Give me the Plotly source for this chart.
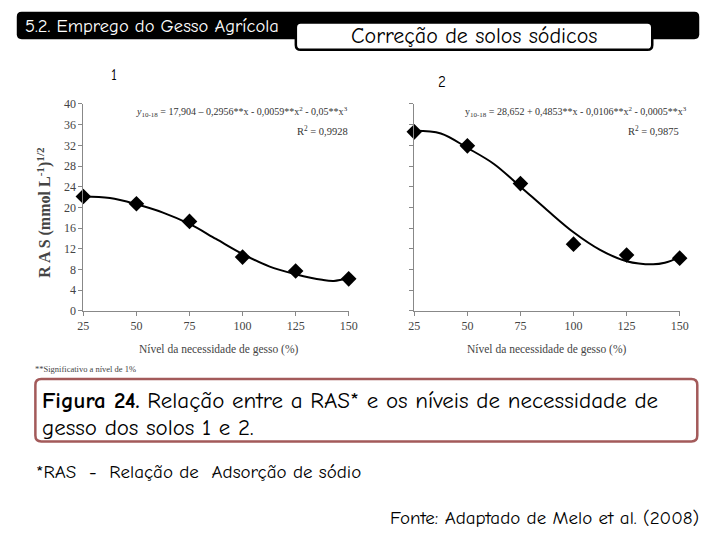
import plotly.graph_objects as go

W, H = 720, 540

# ---- data ----
levels = [25, 50, 75, 100, 125, 150]
ras_solo1 = [22.1, 20.7, 17.3, 10.4, 7.7, 6.2]
ras_solo2 = [34.6, 31.9, 24.6, 12.9, 10.8, 10.2]

curve_x = [25, 37.5, 50, 62.5, 75, 87.5, 100, 112.5, 125, 137.5, 143, 150]
curve_solo1 = [22.1, 21.8, 20.6, 19.0, 16.8, 13.9, 11.0, 8.6, 7.1, 6.0, 5.8, 6.3]
curve_solo2 = [34.8, 34.3, 31.5, 28.4, 24.0, 19.5, 15.2, 11.8, 9.6, 9.0, 9.3, 10.4]

x_ticks = [25, 50, 75, 100, 125, 150]
y_ticks = [0, 4, 8, 12, 16, 20, 24, 28, 32, 36, 40]

eq1 = "<i>y</i><sub>10-18</sub> = 17,904 \u2013 0,2956**x - 0,0059**x<sup>2</sup> - 0,05**x<sup>3</sup>"
r2_1 = "R<sup>2</sup> = 0,9928"
eq2 = "y<sub>10-18</sub> = 28,652 + 0,4853**x - 0,0106**x<sup>2</sup> - 0,0005**x<sup>3</sup>"
r2_2 = "R<sup>2</sup> = 0,9875"


def X(px):
    return px / W


def Y(py):
    return 1 - py / H


def rounded(x0, y0, x1, y1, r):
    a0, b0, a1, b1 = X(x0), Y(y1), X(x1), Y(y0)
    rx, ry = r / W, r / H
    return (f"M{a0+rx},{b0} L{a1-rx},{b0} Q{a1},{b0} {a1},{b0+ry} "
            f"L{a1},{b1-ry} Q{a1},{b1} {a1-rx},{b1} L{a0+rx},{b1} "
            f"Q{a0},{b1} {a0},{b1-ry} L{a0},{b0+ry} Q{a0},{b0} {a0+rx},{b0} Z")


SERIF = "Liberation Serif, Times New Roman, serif"
COMIC = "Comic Sans MS, Comic Neue, Lato, sans-serif"

fig = go.Figure()

for xa, ya, pts, cur in [("x", "y", ras_solo1, curve_solo1), ("x2", "y2", ras_solo2, curve_solo2)]:
    fig.add_trace(go.Scatter(x=curve_x, y=cur, xaxis=xa, yaxis=ya, mode="lines",
                             line=dict(color="black", width=2, shape="spline"),
                             showlegend=False, hoverinfo="skip", cliponaxis=False))
    fig.add_trace(go.Scatter(x=levels, y=pts, xaxis=xa, yaxis=ya, mode="markers",
                             marker=dict(symbol="diamond", size=12, color="black"),
                             showlegend=False, cliponaxis=False))

ax_common = dict(range=[25, 150], tickvals=x_ticks, ticks="outside", ticklen=4,
                 tickcolor="#888", showline=True, linecolor="#888", linewidth=1,
                 showgrid=False, zeroline=False,
                 tickfont=dict(family=SERIF, size=12, color="#444"))
ay_common = dict(range=[0, 40], tickvals=y_ticks, ticks="outside", ticklen=4,
                 tickcolor="#888", showline=True, linecolor="#888", linewidth=1,
                 showgrid=False, zeroline=False,
                 tickfont=dict(family=SERIF, size=12, color="#444"))

fig.update_layout(
    width=W, height=H, margin=dict(l=0, r=0, t=0, b=0),
    paper_bgcolor="white", plot_bgcolor="white",
    xaxis=dict(domain=[X(79), X(350)], anchor="y", **ax_common),
    yaxis=dict(domain=[Y(312), Y(99.5)], anchor="x", **ay_common),
    xaxis2=dict(domain=[X(417), X(688)], anchor="y2", **ax_common),
    yaxis2=dict(domain=[Y(312), Y(99.5)], anchor="x2", showticklabels=False,
                **{k: v for k, v in ay_common.items() if k != "tickfont"}),
)

shapes = [
    dict(type="path", path=rounded(11, 5, 708, 33, 5), xref="paper", yref="paper",
         fillcolor="black", line=dict(width=0)),
    dict(type="path", path=rounded(296, 16, 660, 44, 5), xref="paper", yref="paper",
         fillcolor="white", line=dict(color="black", width=2.5)),
    dict(type="path", path=rounded(30, 382, 706, 446, 6), xref="paper", yref="paper",
         fillcolor="rgba(0,0,0,0)", line=dict(color="#a35a5a", width=2.5)),
]
fig.update_layout(shapes=shapes)

ann = []


def txt(px, py, text, size, family, color="black", xanchor="left", yanchor="middle", angle=0):
    ann.append(dict(x=X(px), y=Y(py), xref="paper", yref="paper", text=text, showarrow=False,
                    xanchor=xanchor, yanchor=yanchor, textangle=angle, borderpad=0,
                    font=dict(size=size, family=family, color=color)))


txt(18, 19, "5.2. Emprego do Gesso Agrícola", 18.5, COMIC, color="white")
txt(478, 30, "Correção de solos sódicos", 22, COMIC, xanchor="center")
txt(110, 70, "1", 15, COMIC, xanchor="center")
txt(445, 77, "2", 15, COMIC, xanchor="center")

txt(350, 108, eq1, 10, SERIF, color="#333", xanchor="right")
txt(350, 127, r2_1, 10.5, SERIF, color="#333", xanchor="right")
txt(697, 108, eq2, 10, SERIF, color="#333", xanchor="right")
txt(688, 127, r2_2, 10.5, SERIF, color="#333", xanchor="right")

txt(39, 211, "<b>R A S (mmol L<sup>-1</sup>)<sup>1/2</sup></b>", 16, SERIF, color="#444",
    xanchor="center", angle=-90)
txt(218, 352, "Nível da necessidade de gesso (%)", 11.5, SERIF, color="#444", xanchor="center")
txt(553, 352, "Nível da necessidade de gesso (%)", 11.5, SERIF, color="#444", xanchor="center")
txt(29, 372, "**Significativo a nível de 1%", 8.5, SERIF, color="#444")

txt(36, 404, "<b>Figura 24.</b> Relação entre a RAS* e os níveis de necessidade de", 23, COMIC)
txt(36, 432, "gesso dos solos 1 e 2.", 23, COMIC)
txt(30, 477, "*RAS  -  Relação de  Adsorção de sódio", 19, COMIC)
txt(709, 525, "Fonte: Adaptado de Melo et al. (2008)", 19, COMIC, xanchor="right")

fig.update_layout(annotations=ann)

post = (
    "document.body.style.margin='0';document.body.style.padding='0';"
    "document.body.style.overflow='hidden';"
)

fig.write_html("out.html", config={"displayModeBar": False}, post_script=post)
